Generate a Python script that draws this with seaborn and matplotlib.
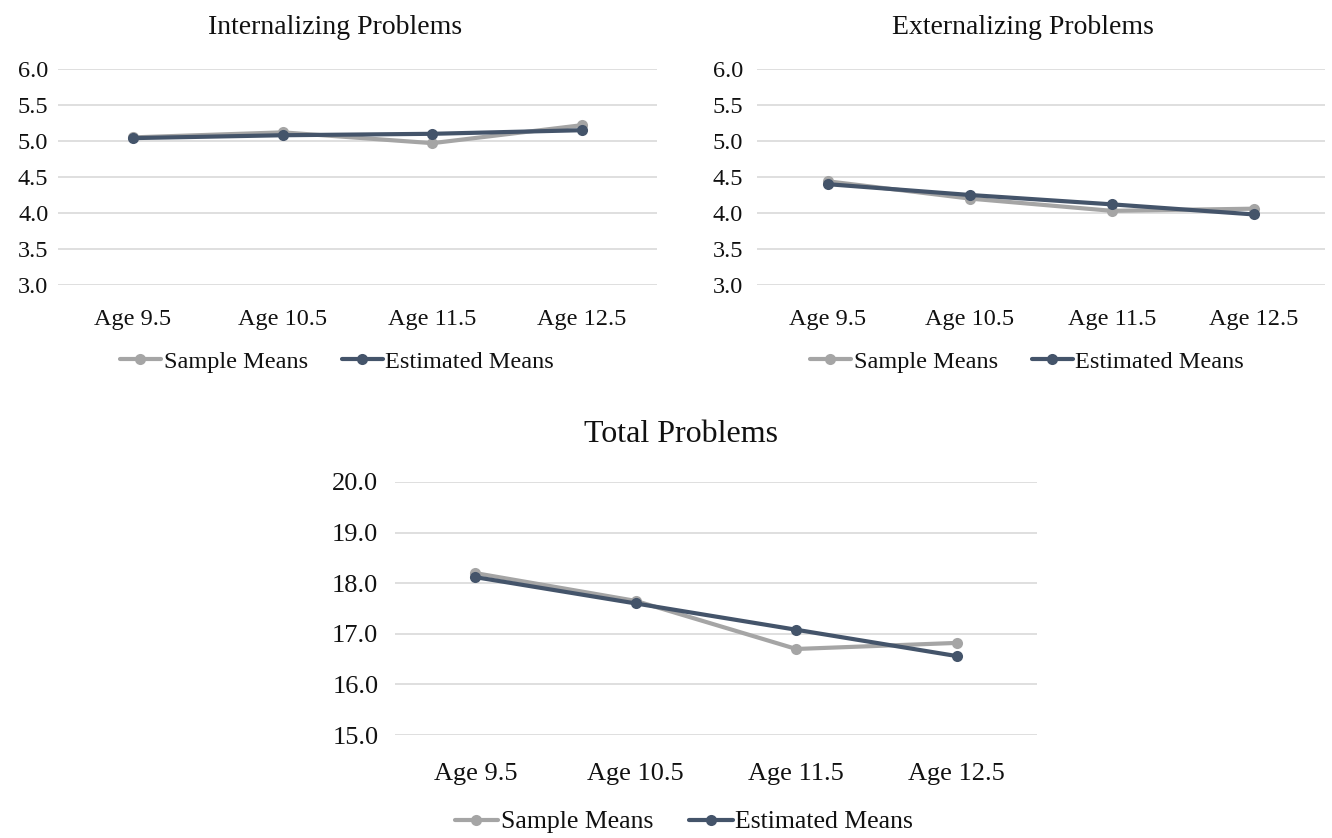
import numpy as np
import pandas as pd
import seaborn as sns
import matplotlib.pyplot as plt

ages = ['Age 9.5', 'Age 10.5', 'Age 11.5', 'Age 12.5']

int_sample = [5.05, 5.12, 4.97, 5.22]
int_estimated = [5.04, 5.08, 5.10, 5.15]
ext_sample = [4.44, 4.20, 4.03, 4.06]
ext_estimated = [4.40, 4.25, 4.12, 3.98]
tot_sample = [18.20, 17.65, 16.70, 16.82]
tot_estimated = [18.12, 17.60, 17.08, 16.56]

series_names = ['Sample Means', 'Estimated Means']
palette = {'Sample Means': '#A5A5A5', 'Estimated Means': '#44546A'}

sns.set_theme(style='white')
plt.rcParams['font.family'] = ['Liberation Serif', 'DejaVu Serif']
plt.rcParams['text.color'] = '#111111'


def long_df(sample, estimated):
    return pd.DataFrame({
        'age': ages * 2,
        'value': list(sample) + list(estimated),
        'series': [series_names[0]] * 4 + [series_names[1]] * 4,
    })


fig = plt.figure(figsize=(13.32, 8.38), dpi=100)
W, H = 1332, 838


def panel(rect_px, sample, estimated, ylim, step, title, title_xy, leg_xy,
          tick_fs, title_fs, leg_fs, ypad, xpad):
    l, t, r, b = rect_px
    ax = fig.add_axes([l / W, 1 - b / H, (r - l) / W, (b - t) / H])
    sns.lineplot(data=long_df(sample, estimated), x='age', y='value', hue='series',
                 hue_order=series_names, palette=palette, marker='o', sort=False,
                 linewidth=3, markersize=8, markeredgewidth=0, ax=ax, legend=False)
    ax.set_xlim(-0.5, 3.5)
    ax.set_ylim(*ylim)
    ax.set_yticks(np.arange(ylim[0], ylim[1] + step / 2, step))
    ax.set_yticklabels(['{:.1f}'.format(v) for v in ax.get_yticks()])
    ax.grid(axis='y', color='#D9D9D9', linewidth=1.2)
    ax.set_axisbelow(True)
    for s in ax.spines.values():
        s.set_visible(False)
    ax.tick_params(axis='x', length=0, pad=xpad, labelsize=tick_fs, labelcolor='#111111')
    ax.tick_params(axis='y', length=0, pad=ypad, labelsize=tick_fs, labelcolor='#111111')
    ax.set_xlabel('')
    ax.set_ylabel('')
    fig.text(title_xy[0] / W, 1 - title_xy[1] / H, title, ha='center', va='center',
             fontsize=title_fs, color='#111111')
    handles = [plt.Line2D([], [], color=palette[n], linewidth=3, marker='o',
                          markersize=8, markeredgewidth=0) for n in series_names]
    ax.legend(handles, series_names, loc='center', ncol=2, frameon=False,
              bbox_to_anchor=(leg_xy[0] / W, 1 - leg_xy[1] / H),
              bbox_transform=fig.transFigure, fontsize=leg_fs,
              handlelength=1.7, handletextpad=0.1, columnspacing=1.4)
    return ax


panel((58, 69, 657, 285), int_sample, int_estimated, (3.0, 6.0), 0.5,
      'Internalizing Problems', (335, 28), (337, 362), 17.5, 20, 17.5, 7, 17)
panel((757, 69, 1325, 285), ext_sample, ext_estimated, (3.0, 6.0), 0.5,
      'Externalizing Problems', (1023, 28), (1027, 362), 17.5, 20, 17.5, 10, 17)
panel((395, 482, 1037, 735), tot_sample, tot_estimated, (15.0, 20.0), 1.0,
      'Total Problems', (681, 435), (684, 822), 19, 23, 18.5, 12, 20)

fig.savefig('out.png', dpi=100)
